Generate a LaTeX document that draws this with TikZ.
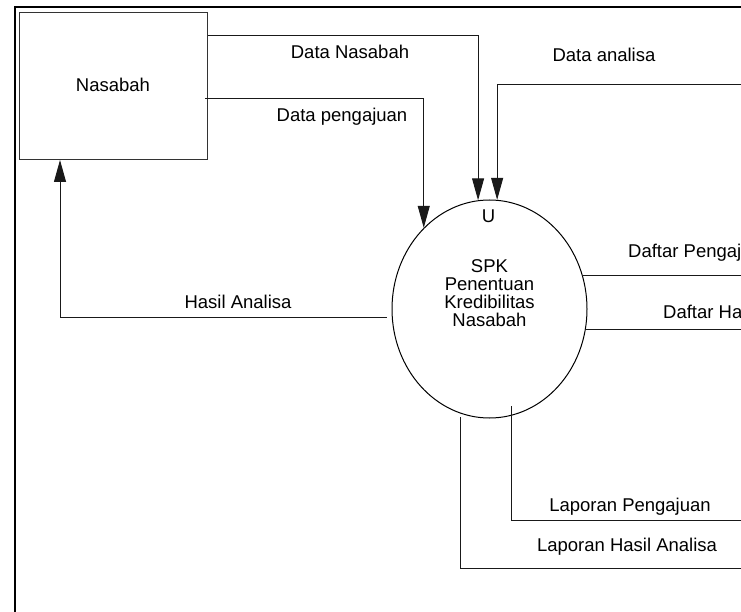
\documentclass[tikz,border=0pt]{standalone}
\usepackage{fontspec}
\setmainfont{Liberation Sans}
\usetikzlibrary{arrows.meta,shapes.geometric,calc}
\begin{document}
\begin{tikzpicture}[x=1pt,y=-1pt,
  flow/.style={draw=black!90, line width=1pt},
  tip/.style={-{Triangle[length=22pt,width=12pt]}},
  lbl/.style={font=\fontsize{18.5}{17}\selectfont, inner sep=0pt, text=black, anchor=base},
  boxnode/.style={draw=black!80, line width=1pt, inner sep=0pt, anchor=north west},
  procnode/.style={ellipse, draw=black, line width=1pt, inner sep=0pt}]
\useasboundingbox (0,0) rectangle (741,612);
\clip (0,0) rectangle (741,612);
\fill[white] (0,0) rectangle (741,612);
% outer frame
\draw[line width=1.5pt] (15,7) rectangle (800,700);
% entity and process
\node[boxnode, minimum width=188.5pt, minimum height=147pt] (nas) at (18.5,12) {};
\node[lbl] (nastext) at (113,91.5) {Nasabah};
\node[procnode, minimum width=195pt, minimum height=218pt] (spk) at (489.5,309) {};
\node[lbl] (u) at (488.5,223) {U};
\node[lbl] (spk1) at (489.5,272.5) {SPK};
\node[lbl] (spk2) at (489.5,290.5) {Penentuan};
\node[lbl] (spk3) at (489.5,308.5) {Kredibilitas};
\node[lbl] (spk4) at (489.5,326.5) {Nasabah};
% free ends
\coordinate (daE) at (741,85);
\coordinate (dpE) at (741,274);
\coordinate (dhE) at (741,330);
\coordinate (lpE) at (741,520);
\coordinate (lhE) at (741,568);
% connectors
\draw[flow,tip] (nas.east |- 0,36) -| (spk.96.6);
\draw[flow,tip] ($(nas.east |- 0,99)+(-3,0)$) -| (spk.129.8);
\draw[flow,tip] (daE) -| (spk.86.05);
\draw[flow,tip] ($(spk.185.3)+(-5,0)$) -| (nas.south -| 60,0);
\draw[flow] (spk.20.8) -- (spk.20.8 -| dpE);
\draw[flow] (spk.-12.4) -- (spk.-12.4 -| dhE);
\draw[flow] ($(spk.center)+(21.5,97)$) |- (lpE);
\draw[flow] ($(spk.center)+(-29.5,108)$) |- (lhE);
% labels
\node[lbl] at (350,58.5) {Data Nasabah};
\node[lbl] at (342,121.5) {Data pengajuan};
\node[lbl] at (604,61.5) {Data analisa};
\node[lbl] at (238,308.5) {Hasil Analisa};
\node[lbl, anchor=base west] at (628,257.5) {Daftar Pengaj};
\node[lbl, anchor=base west] at (663,318.5) {Daftar Ha};
\node[lbl] at (630,511.5) {Laporan Pengajuan};
\node[lbl] at (627,551.5) {Laporan Hasil Analisa};
\end{tikzpicture}
\end{document}
